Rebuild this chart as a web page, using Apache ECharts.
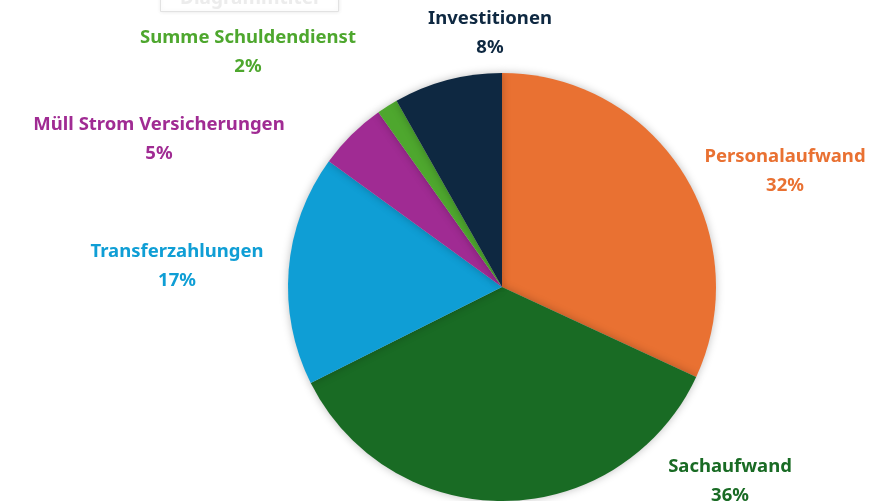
<!DOCTYPE html>
<html><head><meta charset="utf-8">
<script src="https://cdn.jsdelivr.net/npm/echarts@6/dist/echarts.min.js"></script>
<style>html,body{margin:0;padding:0;background:#fff}#c{width:896px;height:501px}</style>
</head><body><div id="c"></div>
<script>
const categories = ['Personalaufwand','Sachaufwand','Transferzahlungen','Müll Strom Versicherungen','Summe Schuldendienst','Investitionen'];
const values = [31.9, 35.7, 17.4, 5.2, 1.6, 8.2];
const colors = ['#E97132','#196B24','#0F9ED5','#A02B93','#4EA72E','#0E2841'];
const titleText = 'Diagrammtitel';
// label anchor points (layout only)
const labelPos = [[785,171],[730,481],[177,266],[159,139],[248,52],[490,33]];

const chart = echarts.init(document.getElementById('c'), null, {renderer:'canvas'});
chart.setOption({
  animation:false,
  backgroundColor:'#fff',
  title:{text:titleText,left:160,top:-15,textStyle:{color:'#ececec',fontSize:19,fontWeight:'bold',fontFamily:'Noto Sans'},
    borderColor:'#e2e2e2',borderWidth:1,padding:[4,20],shadowBlur:4,shadowColor:'rgba(0,0,0,0.08)',backgroundColor:'#fff'},
  series:[{
    type:'pie',
    center:[502,287],
    radius:214,
    startAngle:90,
    clockwise:true,
    avoidLabelOverlap:false,
    itemStyle:{shadowBlur:8,shadowColor:'rgba(0,0,0,0.25)'},
    label:{
      show:true,position:'outside',
      fontFamily:'Noto Sans',fontWeight:'bold',fontSize:18.5,lineHeight:29,align:'center',
      formatter:p=>p.name+'\n'+Math.round(p.percent)+'%'
    },
    labelLine:{show:false},
    labelLayout:p=>({x:labelPos[p.dataIndex][0],y:labelPos[p.dataIndex][1],align:'center',verticalAlign:'middle',hideOverlap:false}),
    data:categories.map((n,i)=>({name:n,value:values[i],itemStyle:{color:colors[i]},label:{color:colors[i]}}))
  }]
});
</script></body></html>
